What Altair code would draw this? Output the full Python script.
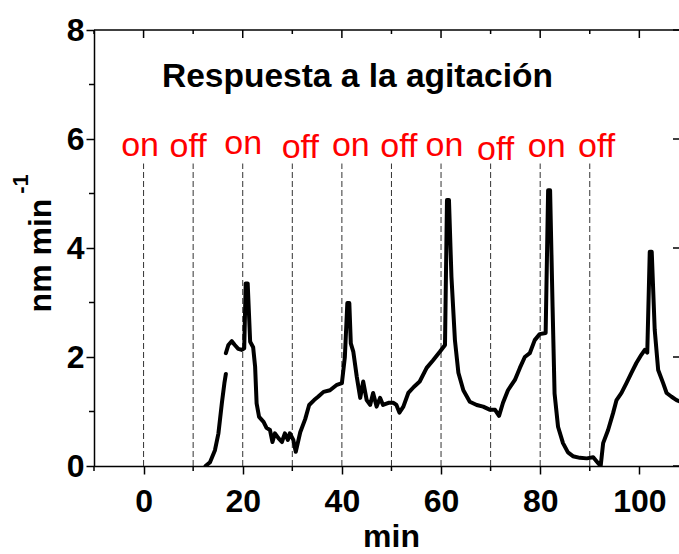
import altair as alt
import pandas as pd

# Rate trace, first piece (before the break in the record)
time_a = [12.5, 13.4, 14.4, 15.1, 15.8, 16.3, 16.6]
rate_a = [0.0, 0.07, 0.29, 0.6, 1.16, 1.52, 1.69]

# Rate trace, rest of the run
time_b = [16.6, 17.1, 17.8, 18.4, 19.1, 19.8, 20.3, 20.6, 21.0, 21.5, 22.1, 22.5,
          22.8, 23.3, 24.2, 24.8, 25.5, 26.0, 26.5, 27.2, 27.9, 28.5, 29.1, 29.5,
          30.2, 30.7, 31.6, 32.6, 33.4, 34.4, 35.2, 36.3, 37.6, 39.0, 40.0, 40.6,
          41.1, 41.5, 41.8, 42.3, 43.0, 43.7, 44.3, 45.0, 45.7, 46.3, 47.0, 47.7,
          48.3, 49.4, 50.4, 51.0, 51.6, 52.4, 53.4, 54.5, 55.7, 57.1, 58.4, 59.8,
          60.8, 61.2, 61.6, 62.1, 62.8, 63.5, 64.5, 65.8, 67.2, 68.5, 69.9, 70.9,
          71.7, 72.5, 73.5, 74.9, 75.9, 76.9, 77.9, 78.9, 79.9, 81.1, 81.6, 82.0,
          82.5, 82.9, 83.6, 84.6, 85.6, 86.6, 88.0, 89.4, 90.7, 91.7, 92.2, 92.7,
          93.7, 94.7, 95.4, 96.4, 97.4, 98.4, 99.4, 100.4, 101.1, 101.6, 102.1,
          102.5, 103.1, 103.8, 104.8, 105.5, 106.5, 107.5, 108.5]
rate_b = [2.07, 2.22, 2.29, 2.22, 2.15, 2.13, 2.16, 3.35, 3.35, 2.28, 2.18, 1.82,
          1.15, 0.9, 0.81, 0.70, 0.66, 0.44, 0.6, 0.51, 0.44, 0.6, 0.48, 0.6,
          0.48, 0.26, 0.62, 0.86, 1.12, 1.21, 1.27, 1.36, 1.39, 1.49, 1.52, 2.0,
          2.99, 2.99, 2.25, 2.10, 1.64, 1.25, 1.55, 1.21, 1.12, 1.34, 1.09, 1.25,
          1.12, 1.16, 1.16, 1.12, 0.98, 1.09, 1.34, 1.45, 1.55, 1.80, 1.94, 2.10,
          2.22, 4.88, 4.88, 3.47, 2.31, 1.71, 1.39, 1.18, 1.12, 1.09, 1.03, 1.03,
          0.92, 1.16, 1.39, 1.58, 1.80, 2.0, 2.07, 2.31, 2.42, 2.44, 5.06, 5.06,
          2.92, 1.33, 0.72, 0.42, 0.25, 0.18, 0.15, 0.14, 0.16, 0.05, 0.0, 0.42,
          0.66, 0.97, 1.21, 1.34, 1.52, 1.71, 1.89, 2.04, 2.13, 2.08, 3.93,
          3.93, 2.50, 1.76, 1.52, 1.34, 1.27, 1.21, 1.17]

# Stirring switched on/off every 10 min
switch_times = [0, 10, 20, 30, 40, 50, 60, 70, 80, 90]
state_labels = ["on", "off", "on", "off", "on", "off", "on", "off", "on", "off"]
label_times = [-0.7, 9.0, 20.1, 31.6, 41.8, 51.5, 60.7, 71.0, 81.3, 91.4]
label_levels = [5.69, 5.67, 5.72, 5.65, 5.69, 5.67, 5.69, 5.61, 5.67, 5.67]

major_x = [0, 20, 40, 60, 80, 100]
minor_x = [-10, 10, 30, 50, 70, 90]
major_y = [0, 2, 4, 6, 8]
minor_y = [1, 3, 5, 7]

title_text = "Respuesta a la agitación"

FONT = "Liberation Sans"
W, H = 585, 436
X_MIN, X_MAX = -10, 108

x_scale = alt.Scale(domain=[X_MIN, X_MAX], nice=False, zero=False)
y_scale = alt.Scale(domain=[0, 8], nice=False)

x_axis = alt.Axis(
    values=major_x, title="min", grid=False,
    tickSize=8, tickWidth=1.5, tickColor="black",
    domainWidth=1.5, domainColor="black",
    labelFont=FONT, labelFontWeight="bold", labelFontSize=32, labelColor="black",
    labelPadding=12, labelFlush=False, labelOverlap=False,
    titleFont=FONT, titleFontWeight="bold", titleFontSize=32, titleColor="black",
    titleBaseline="alphabetic", titleY=80, titleX=297,
)
y_axis = alt.Axis(
    values=major_y, title="nm min", grid=False,
    tickSize=8, tickWidth=1.5, tickColor="black",
    domainWidth=1.5, domainColor="black",
    labelFont=FONT, labelFontWeight="bold", labelFontSize=32, labelColor="black",
    labelPadding=2, labelFlush=False, labelOverlap=False,
    titleFont=FONT, titleFontWeight="bold", titleFontSize=32, titleColor="black",
    titleAngle=270, titleAlign="center", titleBaseline="alphabetic",
    titleX=-44, titleY=225,
)

trace = pd.DataFrame({
    "t": time_a + time_b,
    "v": rate_a + rate_b,
    "piece": ["a"] * len(time_a) + ["b"] * len(time_b),
})
trace["order"] = range(len(trace))

line = alt.Chart(trace).mark_line(
    color="black", strokeWidth=4, clip=True, strokeJoin="round", strokeCap="round"
).encode(
    x=alt.X("t:Q", scale=x_scale, axis=x_axis),
    y=alt.Y("v:Q", scale=y_scale, axis=y_axis),
    detail="piece:N",
    order="order:Q",
)

# dashed markers at each switching time
switches = alt.Chart(pd.DataFrame({"t": switch_times})).mark_rule(
    color="#333333", strokeWidth=1, strokeDash=[6, 3]
).encode(
    x=alt.X("t:Q", scale=x_scale, axis=x_axis),
    y=alt.YDatum(0, scale=y_scale, axis=y_axis),
    y2=alt.Y2Datum(5.55),
)

labels = alt.Chart(pd.DataFrame({
    "t": label_times, "v": label_levels, "s": state_labels
})).mark_text(
    color="red", font=FONT, fontSize=34, align="center", baseline="alphabetic"
).encode(
    x=alt.X("t:Q", scale=x_scale, axis=x_axis),
    y=alt.Y("v:Q", scale=y_scale, axis=y_axis),
    text="s:N",
)

# frame: top edge with inward ticks, right edge ticks, minor ticks
top_edge = alt.Chart(pd.DataFrame({"k": [0]})).mark_rule(
    color="black", strokeWidth=1.5
).encode(
    x=alt.XDatum(X_MIN, scale=x_scale, axis=x_axis),
    x2=alt.X2Datum(X_MAX),
    y=alt.value(0),
)
top_major = alt.Chart(pd.DataFrame({"t": major_x})).mark_rule(
    color="black", strokeWidth=1.5
).encode(x=alt.X("t:Q", scale=x_scale, axis=x_axis), y=alt.value(0), y2=alt.value(8))
top_minor = alt.Chart(pd.DataFrame({"t": minor_x})).mark_rule(
    color="black", strokeWidth=1.5
).encode(x=alt.X("t:Q", scale=x_scale, axis=x_axis), y=alt.value(0), y2=alt.value(4))
bottom_minor = alt.Chart(pd.DataFrame({"t": minor_x})).mark_rule(
    color="black", strokeWidth=1.5
).encode(x=alt.X("t:Q", scale=x_scale, axis=x_axis), y=alt.value(H), y2=alt.value(H + 5))
left_minor = alt.Chart(pd.DataFrame({"v": minor_y})).mark_rule(
    color="black", strokeWidth=1.5
).encode(y=alt.Y("v:Q", scale=y_scale, axis=y_axis), x=alt.value(-5), x2=alt.value(0))
right_major = alt.Chart(pd.DataFrame({"v": major_y})).mark_rule(
    color="black", strokeWidth=1.5
).encode(y=alt.Y("v:Q", scale=y_scale, axis=y_axis), x=alt.value(W - 6), x2=alt.value(W))

heading = alt.Chart(pd.DataFrame({"s": [title_text]})).mark_text(
    font=FONT, fontWeight="bold", fontSize=33.5, color="black",
    align="left", baseline="alphabetic"
).encode(x=alt.value(68), y=alt.value(57), text="s:N")

exponent = alt.Chart(pd.DataFrame({"s": ["-1"]})).mark_text(
    font=FONT, fontWeight="bold", fontSize=22, color="black",
    align="center", baseline="alphabetic", angle=270
).encode(x=alt.value(-66), y=alt.value(154), text="s:N")

chart = alt.layer(
    switches, line, labels, top_edge, top_major, top_minor,
    bottom_minor, left_minor, right_major, heading, exponent
).properties(
    width=W, height=H,
    autosize=alt.AutoSizeParams(type="none"),
    padding={"left": 94, "top": 30, "right": 0, "bottom": 88},
    background="white",
).configure_view(stroke=None)

chart.save("out.html", embed_options={"renderer": "svg", "actions": False})
